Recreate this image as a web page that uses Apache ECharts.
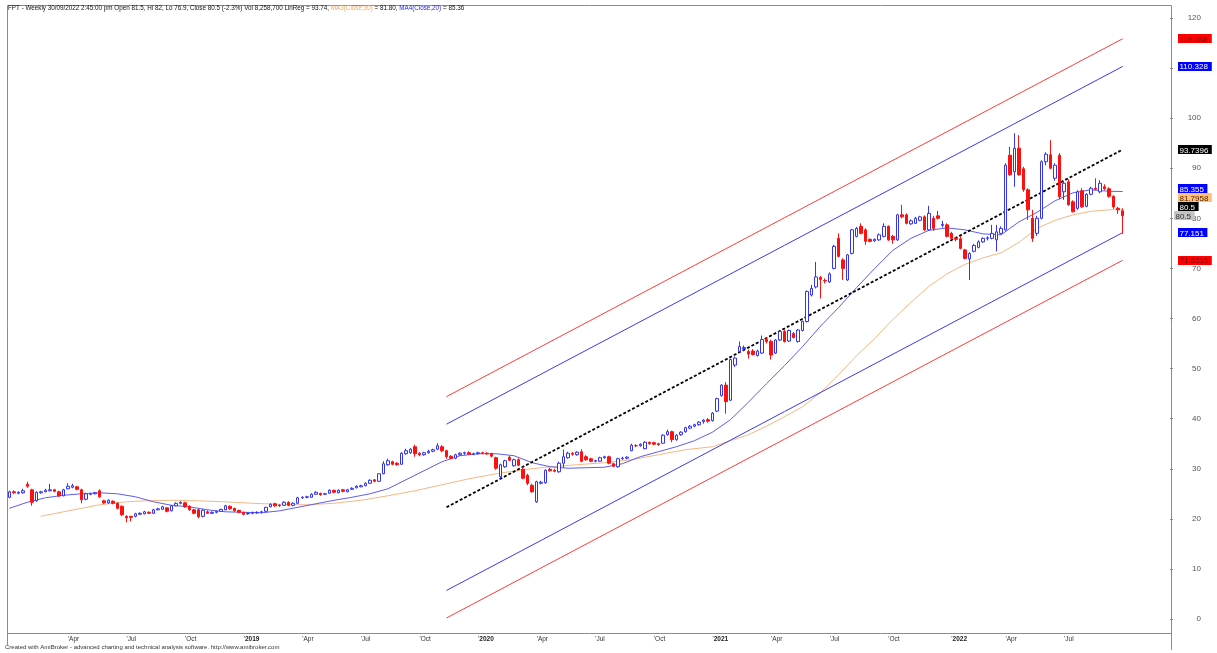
<!DOCTYPE html>
<html>
<head>
<meta charset="utf-8">
<script src="https://cdn.jsdelivr.net/npm/echarts@6/dist/echarts.min.js"></script>
<style>
html,body{margin:0;padding:0;background:#fff;}
#chart{width:1217px;height:653px;}
</style>
</head>
<body>
<div id="chart"></div>
<script>
// ---------------- DATA ----------------
const startDate = [2018, 0, 5];     // first weekly bar (Friday)
const emptyWeeksAfter = 10;          // blank space right of the last bar

// weekly bars: [open, high, low, close]
const ohlc2018 = [
[24.3,25.6,24.1,25.4],[25.4,25.7,25.0,25.2],[25.1,25.5,24.9,25.3],[25.2,26.0,25.0,25.6],
[26.9,27.4,26.2,26.5],[25.8,26.0,22.6,23.3],[23.6,25.5,23.4,25.3],[25.2,25.6,25.0,25.4],
[25.4,26.0,25.3,25.7],[25.6,27.0,25.5,25.8],[25.8,26.0,25.3,25.5],[25.4,25.6,24.4,24.6],
[24.6,26.0,24.5,25.8],[26.0,27.1,25.9,26.5],[26.3,27.0,26.1,26.6],[26.4,26.6,25.7,25.9],
[25.8,26.0,23.1,23.8],[23.9,25.2,23.7,25.0],[24.9,25.2,24.7,25.0],[25.0,25.4,24.9,25.2],
[25.6,25.9,24.2,24.4],[23.6,23.8,23.0,23.2],[23.2,23.9,23.0,23.7],[23.5,23.7,22.9,23.1],
[23.1,23.3,21.9,22.1],[22.5,22.7,20.6,20.8],[20.5,20.7,19.3,20.2],[20.5,20.6,19.5,20.3],
[20.5,21.2,20.3,21.0],[20.9,21.3,20.8,21.1],[21.0,21.6,20.9,21.4],[21.3,21.5,21.0,21.1],
[21.1,22.0,21.0,21.8],[21.8,22.2,21.7,22.0],[21.9,22.6,21.8,22.4],[22.2,22.3,21.3,21.5],
[21.6,22.8,21.5,22.6],[22.6,23.3,22.5,23.1],[23.1,23.5,22.9,23.3],[23.2,23.4,22.2,22.4],
[22.5,22.7,21.6,21.8],[21.8,22.0,20.9,21.1],[21.8,22.0,20.1,20.4],[20.5,21.9,20.3,21.7],
[21.4,21.7,21.0,21.1],[21.1,21.5,21.0,21.3],[21.3,21.6,21.1,21.5],[21.5,22.0,21.4,21.9],
[21.8,22.8,21.7,22.6],[22.5,22.7,21.8,22.0],[22.1,22.2,21.4,21.6],[21.7,21.8,21.1,21.3]
];
const ohlc2019 = [
[21.3,21.4,20.7,20.9],[21.0,21.3,20.8,21.1],[21.1,21.4,20.9,21.3],[21.2,21.5,21.0,21.3],
[21.3,21.6,21.1,21.4],[21.5,22.4,21.4,22.3],[22.4,23.1,22.3,22.9],[23.0,23.2,22.4,22.6],
[22.6,22.9,22.4,22.7],[22.7,23.5,22.6,23.3],[23.3,23.5,22.5,22.7],[22.7,23.3,22.5,23.1],
[23.1,24.4,23.0,24.2],[24.2,24.5,24.0,24.3],[24.3,24.6,24.1,24.4],[24.3,25.1,24.2,24.9],
[24.9,25.5,24.8,25.3],[25.1,25.2,24.6,24.8],[24.9,25.2,24.8,25.0],[25.1,25.9,25.0,25.7],
[25.7,25.8,25.1,25.3],[25.2,25.9,25.1,25.7],[25.8,25.9,25.3,25.5],[25.4,26.0,25.3,25.8],
[25.9,26.3,25.8,26.1],[26.2,26.7,26.1,26.5],[26.4,26.8,26.3,26.6],[26.6,27.3,26.5,27.1],
[27.1,27.9,27.0,27.7],[27.8,27.9,27.3,27.5],[27.5,29.1,27.4,29.0],[29.0,31.5,28.9,31.0],
[30.8,32.0,30.6,31.6],[31.4,31.6,30.7,30.9],[31.1,31.3,30.6,30.8],[30.9,33.3,30.8,33.1],
[33.0,34.0,32.8,33.6],[33.2,34.1,33.0,33.9],[34.4,34.8,32.4,33.0],[33.1,33.3,32.5,32.8],
[32.8,33.4,32.6,33.2],[33.2,33.8,33.0,33.5],[33.5,34.0,33.3,33.8],[33.9,35.1,33.7,34.6],
[34.4,34.7,33.3,33.6],[33.6,33.8,32.0,32.4],[32.5,32.7,31.9,32.1],[32.1,33.0,31.9,32.8],
[32.8,33.3,32.6,33.1],[33.1,33.4,32.8,33.2],[33.2,33.5,32.8,32.9],[32.9,33.2,32.7,33.0]
];
const ohlc2020 = [
[33.0,33.4,32.8,33.2],[33.2,33.4,32.9,33.1],[33.1,33.3,32.8,33.0],[33.0,33.2,32.3,32.5],
[32.2,32.4,29.8,30.1],[28.4,31.0,28.0,30.8],[30.4,31.8,30.2,31.6],[32.3,32.6,31.5,31.7],
[30.6,32.0,30.4,31.8],[31.8,32.1,30.5,30.7],[29.9,30.3,27.9,28.1],[28.7,29.0,26.7,27.1],
[26.7,27.0,25.2,25.4],[23.4,27.6,23.2,27.4],[27.1,27.6,26.9,27.3],[27.2,29.9,27.0,29.7],
[29.9,30.2,29.4,29.6],[29.7,30.0,29.3,29.5],[29.4,31.4,29.2,31.1],[31.1,33.8,30.2,32.4],
[32.2,33.4,32.0,33.1],[33.1,33.3,32.6,32.9],[32.8,33.5,32.6,33.3],[33.4,33.9,31.3,31.5],
[32.4,32.7,31.6,31.8],[32.0,32.2,31.3,31.5],[31.5,31.8,31.3,31.6],[31.5,32.4,31.4,32.2],
[32.2,32.6,32.0,32.4],[32.4,32.6,30.9,31.1],[31.0,31.2,30.3,30.5],[30.4,32.2,30.2,32.0],
[32.0,32.4,31.8,32.1],[32.1,32.5,31.9,32.3],[33.6,35.0,33.5,34.7],[34.6,34.9,34.3,34.6],
[34.6,35.1,34.4,34.9],[34.0,35.5,33.9,35.3],[35.3,35.4,34.8,35.0],[35.2,35.4,34.7,34.9],
[35.0,35.2,34.6,34.8],[35.1,36.9,35.0,36.7],[36.8,37.8,36.6,37.4],[37.4,37.6,35.3,35.8],
[35.8,36.9,35.6,36.7],[36.8,37.5,36.6,37.3],[37.4,38.4,37.2,38.2],[38.1,38.7,37.9,38.5],
[38.5,39.0,38.3,38.8],[38.8,39.5,38.6,39.3],[39.4,39.9,39.0,39.7],[39.8,40.1,39.2,39.5]
];
const ohlc2021 = [
[39.6,41.3,39.4,41.1],[41.5,44.2,41.3,44.0],[44.6,46.9,44.4,46.7],[46.7,47.3,41.0,43.4],
[43.7,52.0,43.5,51.8],[50.7,52.4,50.3,52.1],[53.4,55.4,53.2,54.4],[54.0,54.6,53.6,54.2],
[53.4,53.8,52.0,52.9],[53.5,53.9,52.6,52.8],[52.6,53.8,52.4,53.5],[53.1,56.6,52.9,55.8],
[55.8,56.2,55.0,55.4],[55.4,55.8,51.8,52.7],[53.1,55.9,52.9,55.7],[55.7,57.6,55.5,57.4],
[57.4,57.7,55.2,55.4],[55.5,57.8,55.3,57.6],[57.0,57.3,56.0,56.2],[55.4,57.9,55.2,57.7],
[57.6,59.6,57.4,59.4],[59.4,65.6,59.2,65.4],[64.7,66.7,64.4,66.0],[66.3,71.3,66.0,68.3],
[68.2,68.5,64.0,67.8],[67.6,68.0,67.0,67.5],[67.3,69.2,67.1,68.9],[70.0,74.7,69.8,74.4],
[76.0,77.0,72.2,72.4],[71.7,72.0,67.7,70.0],[67.7,72.9,67.5,72.7],[73.0,77.9,72.8,77.7],
[76.4,78.3,76.2,78.0],[78.4,79.0,76.8,77.0],[77.7,78.0,74.7,75.4],[75.8,76.0,75.2,75.4],
[75.5,76.0,75.3,75.8],[75.7,77.0,75.5,76.7],[76.4,79.0,76.2,78.4],[78.4,78.6,75.5,75.7],
[76.4,76.7,74.9,75.7],[75.7,80.9,75.5,80.7],[80.7,82.7,80.0,80.3],[80.7,81.0,78.8,79.0],
[78.9,79.8,78.7,79.5],[79.0,80.3,78.9,80.0],[79.6,80.5,79.4,80.3],[80.3,80.6,77.5,77.7],
[77.7,82.5,77.5,81.0],[80.0,80.5,77.5,78.0],[80.5,81.5,79.8,80.0],[78.6,79.5,78.2,78.8],
[78.7,79.0,76.2,76.4]
];
const ohlc2022 = [
[77.0,77.3,75.8,76.0],[76.0,76.3,75.4,75.8],[75.9,76.5,73.8,74.0],[73.7,73.9,71.8,72.0],
[71.9,73.2,67.7,73.0],[73.4,74.9,73.2,74.6],[74.2,75.6,74.0,75.3],[75.3,76.2,75.1,76.0],
[76.0,76.4,75.6,76.1],[76.0,78.7,75.8,77.0],[75.7,78.7,73.4,77.3],[77.0,78.4,76.8,78.0],
[77.7,91.0,77.5,90.6],[92.6,94.3,88.5,88.7],[89.3,97.0,86.3,94.0],[94.0,96.6,88.5,88.7],
[89.9,90.3,85.3,85.7],[85.7,86.0,79.7,81.7],[80.0,81.7,75.3,76.0],[77.0,80.5,76.5,80.0],
[80.0,91.6,79.8,91.3],[91.3,93.2,90.6,92.8],[92.7,95.6,89.8,90.0],[88.0,91.0,87.5,90.6],
[92.6,93.0,83.8,84.3],[85.3,87.3,83.7,87.0],[87.3,87.8,82.5,82.7],[83.3,83.6,81.2,81.3],
[82.0,85.6,81.7,85.3],[85.5,86.0,82.1,82.3],[82.4,85.0,82.2,84.8],[84.8,86.3,84.6,86.0],
[86.0,88.0,85.6,85.8],[85.3,87.6,85.0,87.0],[86.3,86.8,85.6,85.9],[85.9,86.2,84.1,84.4],
[84.4,84.6,81.9,82.3],[82.0,82.3,80.9,81.7],[81.5,82.0,76.9,80.5]
];

// MA4(Close,20) - blue, read at these bar numbers
const ma20Weeks  = [0,4,8,12,16,20,24,28,32,36,40,44,48,52,56,60,64,68,72,76,80,84,88,92,96,100,104,108,112,116,120,124,128,132,136,140,144,148,152,156,160,164,168,172,176,180,184,188,192,196,200,204,208,212,216,220,224,228,232,236,240,244,247];
const ma20Values = [22.1,23.3,24.2,24.7,25.0,25.2,25.0,24.4,23.4,22.7,22.4,21.8,21.4,21.3,21.2,21.6,22.3,23.0,23.7,24.3,25.0,26.0,27.8,29.6,31.4,32.6,33.0,33.0,32.6,31.2,30.4,30.1,30.2,30.3,31.0,32.4,33.4,34.4,35.6,37.3,39.8,43.3,47.0,50.6,54.4,58.5,62.2,66.2,70.0,73.6,76.0,77.6,78.1,77.7,76.9,76.7,79.3,81.2,83.5,85.1,85.7,85.4,85.36];
// MA3(Close,50) - orange
const ma50Weeks  = [7,12,16,20,26,30,36,42,48,54,60,66,72,78,84,90,96,102,108,114,120,126,132,138,144,150,156,160,164,168,172,176,180,184,188,192,196,200,204,208,212,216,220,224,228,232,236,240,244,247];
const ma50Values = [20.5,21.4,22.1,22.8,23.4,23.6,23.7,23.6,23.4,23.1,22.9,22.8,23.1,23.7,24.6,25.6,26.8,28.0,29.0,29.8,30.4,30.8,31.2,31.8,32.8,33.8,34.4,35.6,36.8,38.5,40.4,42.4,45.2,48.8,52.6,56.0,59.8,63.2,66.4,68.9,70.8,72.1,73.1,75.2,78.0,79.6,80.7,81.4,81.7,81.8];

// Linear regression channel (start bar, end bar)
const regWeeks    = [97, 247];
const linReg      = [22.3, 93.7396];
const innerUpper  = [38.9, 110.328];
const innerLower  = [5.7, 77.151];
const outerUpper  = [44.4, 115.858];
const outerLower  = [0.2, 71.6215];

// right-hand value tags
const tagValues = [115.858, 110.328, 93.7396, 85.355, 81.7958, 80.5, 77.151, 71.6215];
const tagTexts  = ['115.858','110.328','93.7396','85.355','81.7958','80.5','77.151','71.6215'];
const tagKinds  = ['outer','inner','reg','ma20','ma50','close','inner','outer'];
const lastPrice = 80.5;

const monthNames = ['Jan','Feb','Mar','Apr','May','Jun','Jul','Aug','Sep','Oct','Nov','Dec'];
const headerMain = 'FPT - Weekly 30/09/2022 2:45:00 pm Open 81.5, Hi 82, Lo 76.9, Close 80.5 (-2.3%) Vol 8,258,700 LinReg = 93.74, ';
const footerText = 'Created with AmiBroker - advanced charting and technical analysis software. http://www.amibroker.com';

// ---------------- BUILD ----------------
const bars = [].concat(ohlc2018, ohlc2019, ohlc2020, ohlc2021, ohlc2022);
const nBars = bars.length;
const weeks = [];
const base = Date.UTC(startDate[0], startDate[1], startDate[2]);
for (let k = 0; k < nBars + emptyWeeksAfter; k++) {
  weeks.push(new Date(base + k * 7 * 86400000).toISOString().slice(0, 10));
}
const candleData = bars.map(r => [r[0], r[3], r[2], r[1]]);
const pairs = (xs, ys) => xs.map((x, k) => [x, ys[k]]);

function isQuarterStart(idx) {
  if (idx <= 0 || idx >= nBars) return false;
  const m = +weeks[idx].slice(5, 7), d = +weeks[idx].slice(8, 10);
  return (m === 1 || m === 4 || m === 7 || m === 10) && d <= 7;
}

const FONT = '"Liberation Sans", Arial, sans-serif';
const GRID = {left: 7, right: 47, top: 18, bottom: 34};

const chart = echarts.init(document.getElementById('chart'), null, {renderer: 'canvas'});

const lineSeries = (name, data, color, width, type, z) => ({
  name, type: 'line', data, symbol: 'none', clip: false, z: z || 2,
  lineStyle: {color, width, type: type || 'solid'}, silent: true, animation: false
});

chart.setOption({
  animation: false,
  backgroundColor: '#ffffff',
  title: {
    text: '{t|' + headerMain + '}{o|MA3(Close,50)}{t| = 81.80, }{b|MA4(Close,20)}{t| = 85.36}',
    left: 8, top: 5, padding: 0,
    textStyle: {
      fontSize: 6.3, fontFamily: FONT, fontWeight: 'normal',
      rich: {
        t: {color: '#111', fontSize: 6.3, fontFamily: FONT},
        o: {color: '#f4a860', fontSize: 6.3, fontFamily: FONT},
        b: {color: '#2a2ae0', fontSize: 6.3, fontFamily: FONT}
      }
    }
  },
  grid: GRID,
  xAxis: {
    type: 'category', data: weeks, boundaryGap: true, offset: 14,
    axisLine: {show: false},
    axisTick: {show: false},
    axisLabel: {
      interval: (i) => isQuarterStart(i),
      align: 'left', margin: 3, padding: [0, 0, 0, 0],
      fontSize: 6.5, fontFamily: FONT, color: '#333',
      formatter: (val) => {
        const m = +val.slice(5, 7);
        return m === 1 ? "'{y|" + val.slice(0, 4) + '}' : "'" + monthNames[m - 1];
      },
      rich: {y: {fontWeight: 'bold', fontSize: 6.5, fontFamily: FONT, color: '#222'}}
    },
    splitLine: {show: false}
  },
  yAxis: {
    type: 'value', position: 'right', min: 0, max: 120, interval: 10, scale: false,
    axisLine: {show: false},
    axisTick: {show: true, length: 3, inside: false, lineStyle: {color: '#8c8c8c'}},
    axisLabel: {fontSize: 8, fontFamily: FONT, color: '#555', align: 'right', margin: 31},
    splitLine: {show: false}
  },
  series: [
    lineSeries('MA50', pairs(ma50Weeks, ma50Values), '#f3b985', 1, 'solid', 2),
    lineSeries('MA20', pairs(ma20Weeks, ma20Values), '#5d5df2', 1, 'solid', 3),
    lineSeries('outerUpper', pairs(regWeeks, outerUpper), '#ff3b3b', 1),
    lineSeries('outerLower', pairs(regWeeks, outerLower), '#ff3b3b', 1),
    lineSeries('innerUpper', pairs(regWeeks, innerUpper), '#3a3af0', 1),
    lineSeries('innerLower', pairs(regWeeks, innerLower), '#3a3af0', 1),
    lineSeries('LinReg', pairs(regWeeks, linReg), '#000000', 1.8, [3, 2], 4),
    {
      name: 'FPT', type: 'candlestick', data: candleData, barWidth: 3, z: 5,
      itemStyle: {color: '#ffffff', color0: '#ff1010', borderColor: '#3434f4', borderColor0: '#ff1010', borderWidth: 1},
      silent: true, animation: false
    }
  ]
});

// ---------------- frame, footer and value tags ----------------
const W = 1217, H = 653;
const axisX = W - GRID.right;
const yBottom = H - GRID.bottom + 14.5;
const graphics = [
  {type: 'line', shape: {x1: 7.5, y1: 5.5, x2: axisX + 1.5, y2: 5.5}, style: {stroke: '#8c8c8c', lineWidth: 1}, z: 1},
  {type: 'line', shape: {x1: 7.5, y1: 5.5, x2: 7.5, y2: 646}, style: {stroke: '#8c8c8c', lineWidth: 1}, z: 1},
  {type: 'line', shape: {x1: axisX + 1.5, y1: 5.5, x2: axisX + 1.5, y2: 650}, style: {stroke: '#8c8c8c', lineWidth: 1}, z: 1},
  {type: 'line', shape: {x1: 7.5, y1: yBottom, x2: axisX + 1.5, y2: yBottom}, style: {stroke: '#8c8c8c', lineWidth: 1}, z: 1},
  {type: 'text', left: 5, top: 644, style: {text: footerText, fontSize: 6, fontFamily: FONT, fill: '#333'}}
];

const tagStyle = {
  outer: {bg: '#ff0000', fg: '#7a0000'},
  inner: {bg: '#0000ff', fg: '#ffffff'},
  reg:   {bg: '#000000', fg: '#ffffff'},
  ma20:  {bg: '#0000ff', fg: '#ffffff'},
  ma50:  {bg: '#ffbe7a', fg: '#4a2800'},
  close: {bg: '#000000', fg: '#ffffff'},
  price: {bg: '#c4c4c4', fg: '#333333'}
};
const toY = v => chart.convertToPixel({yAxisIndex: 0}, v);
const items = tagValues.map((v, k) => ({y: toY(v), text: tagTexts[k], kind: tagKinds[k], fixed: false}));
items.push({y: toY(lastPrice), text: String(lastPrice), kind: 'price', fixed: true});
items.sort((a, b) => b.y - a.y || (a.fixed ? -1 : 1));
const TAG_H = 9;
for (let k = 1; k < items.length; k++) {
  items[k].y = Math.min(items[k].y, items[k - 1].y - TAG_H);
}
items.forEach(it => {
  const s = tagStyle[it.kind];
  const x = it.kind === 'price' ? axisX + 4 : axisX + 8;
  const w = it.text.length * 4.4 + 3;
  graphics.push({type: 'rect', shape: {x: x, y: Math.round(it.y - TAG_H / 2), width: w, height: TAG_H},
                 style: {fill: s.bg}, z: 10});
  graphics.push({type: 'text', x: x + 1.5, y: Math.round(it.y) + 0.5, z: 11,
                 style: {text: it.text, fill: s.fg, fontSize: 8, fontFamily: FONT, textVerticalAlign: 'middle', verticalAlign: 'middle'}});
});
chart.setOption({graphic: graphics});
</script>
</body>
</html>
